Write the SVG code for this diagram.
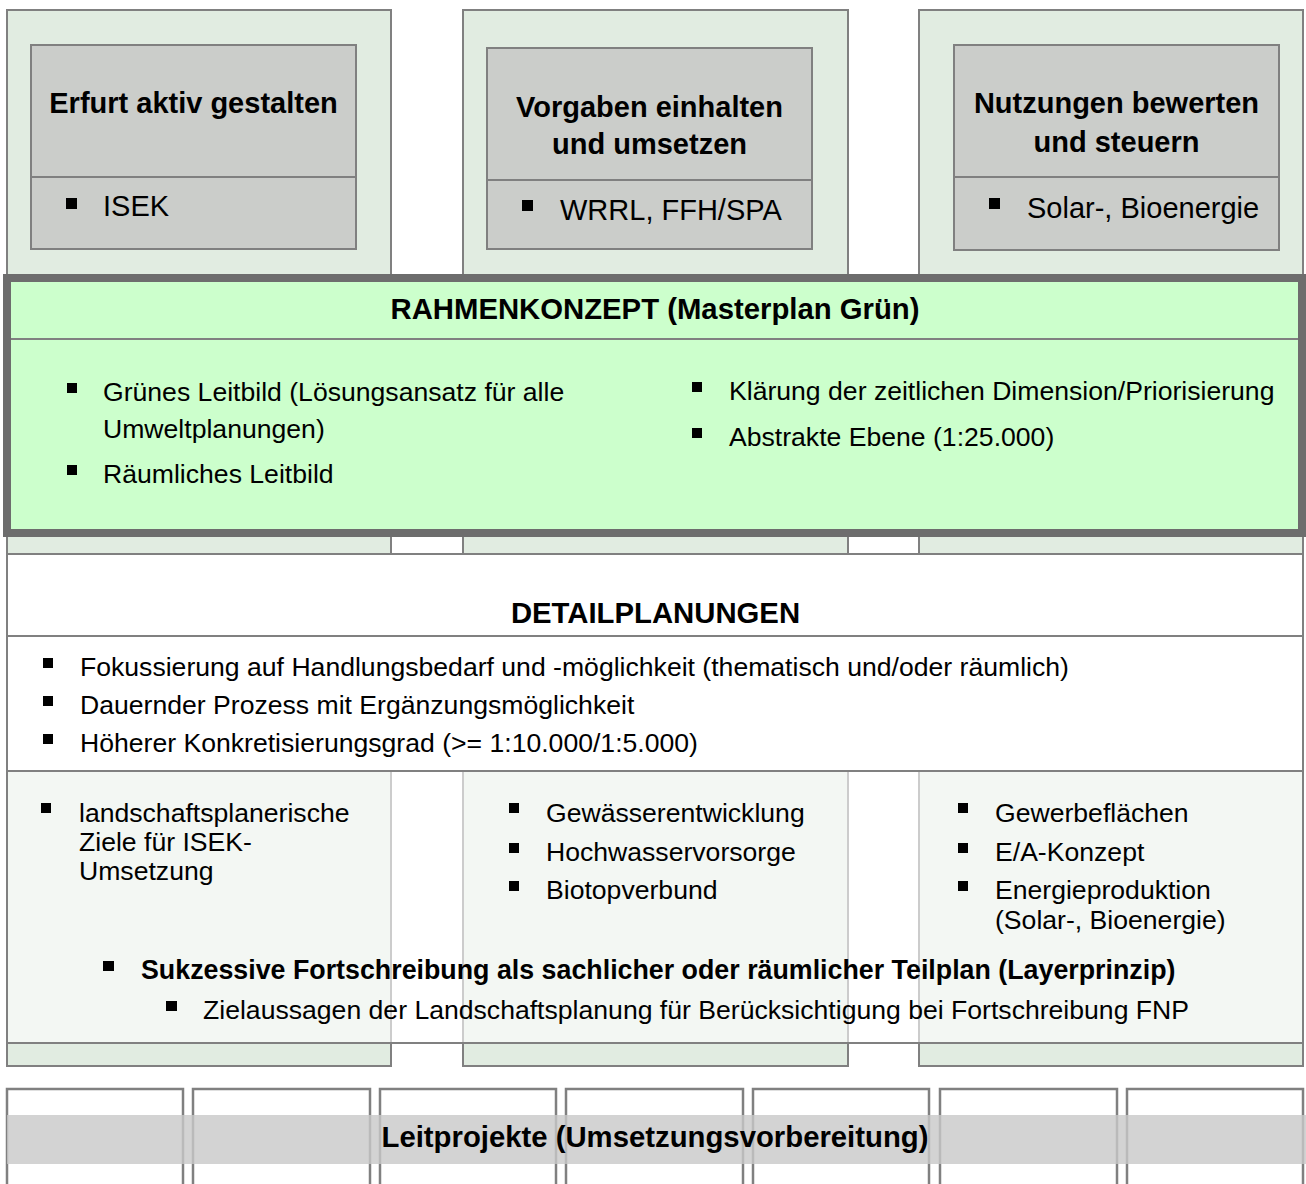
<svg xmlns="http://www.w3.org/2000/svg" width="1306" height="1184" viewBox="0 0 1306 1184">
<style>
text{font-family:"Liberation Sans",Arial,sans-serif;fill:#000}
.tb{font-size:29px;font-weight:bold;text-anchor:middle}
.t29{font-size:29px}
.t{font-size:26.6px}
.b{font-weight:bold}
.h{font-size:29.3px;font-weight:bold;text-anchor:middle}
.col{fill:#e1ece1;stroke:#808080;stroke-width:2}
.inner{fill:#cbcdca;stroke:#808080;stroke-width:2}
.ln{stroke:#808080;stroke-width:2;fill:none}
.sq{fill:#000}
.lp{fill:#fff;stroke:#808080;stroke-width:2.5}
</style>
<rect width="1306" height="1184" fill="#fff"/>
<g id="col-erfurt">
<rect class="col" x="7" y="10" width="384" height="1056"/>
<rect class="inner" x="31" y="45" width="325" height="204"/>
<line class="ln" x1="31" y1="177" x2="356" y2="177"/>
<text class="tb" x="193.5" y="113">Erfurt aktiv gestalten</text>
<rect class="sq" x="66" y="198" width="11" height="11"/>
<text class="t29" x="103" y="216">ISEK</text>
</g>
<g id="col-vorgaben">
<rect class="col" x="463" y="10" width="385" height="1056"/>
<rect class="inner" x="487" y="48" width="325" height="201"/>
<line class="ln" x1="487" y1="180" x2="812" y2="180"/>
<text class="tb" x="649.5" y="117">Vorgaben einhalten</text>
<text class="tb" x="649.5" y="154">und umsetzen</text>
<rect class="sq" x="522" y="200" width="11" height="11"/>
<text class="t29" x="560" y="220">WRRL, FFH/SPA</text>
</g>
<g id="col-nutzungen">
<rect class="col" x="919" y="10" width="384" height="1056"/>
<rect class="inner" x="954" y="45" width="325" height="205"/>
<line class="ln" x1="954" y1="177" x2="1279" y2="177"/>
<text class="tb" x="1116.5" y="113">Nutzungen bewerten</text>
<text class="tb" x="1116.5" y="152">und steuern</text>
<rect class="sq" x="989" y="198" width="11" height="11"/>
<text class="t29" x="1027" y="218">Solar-, Bioenergie</text>
</g>
<g id="rahmenkonzept">
<rect x="7" y="278" width="1295" height="255" fill="#ccffcc" stroke="#6d6d6d" stroke-width="8"/>
<line class="ln" x1="11" y1="339" x2="1298" y2="339"/>
<text class="h" x="655" y="319">RAHMENKONZEPT (Masterplan Grün)</text>
<rect class="sq" x="67" y="383" width="10" height="10"/>
<text class="t" x="103" y="401">Grünes Leitbild (Lösungsansatz für alle</text>
<text class="t" x="103" y="438">Umweltplanungen)</text>
<rect class="sq" x="67" y="465" width="10" height="10"/>
<text class="t" x="103" y="483">Räumliches Leitbild</text>
<rect class="sq" x="692" y="382" width="10" height="10"/>
<text class="t" x="729" y="400">Klärung der zeitlichen Dimension/Priorisierung</text>
<rect class="sq" x="692" y="428" width="10" height="10"/>
<text class="t" x="729" y="446">Abstrakte Ebene (1:25.000)</text>
</g>
<g id="detailplanungen">
<rect x="7" y="554" width="1296" height="217" fill="#fff"/>
<rect x="7" y="771" width="1296" height="272" fill="#fff" fill-opacity="0.6"/>
<rect class="ln" x="7" y="554" width="1296" height="489"/>
<line class="ln" x1="7" y1="636" x2="1303" y2="636"/>
<line class="ln" x1="7" y1="771" x2="1303" y2="771"/>
<text class="h" x="655.5" y="623">DETAILPLANUNGEN</text>
<rect class="sq" x="43" y="658" width="10" height="10"/>
<text class="t" x="80" y="676">Fokussierung auf Handlungsbedarf und -möglichkeit (thematisch und/oder räumlich)</text>
<rect class="sq" x="43" y="696" width="10" height="10"/>
<text class="t" x="80" y="714">Dauernder Prozess mit Ergänzungsmöglichkeit</text>
<rect class="sq" x="43" y="734" width="10" height="10"/>
<text class="t" x="80" y="752">Höherer Konkretisierungsgrad (&gt;= 1:10.000/1:5.000)</text>
<rect class="sq" x="41" y="803" width="10" height="10"/>
<text class="t" x="79" y="822">landschaftsplanerische</text>
<text class="t" x="79" y="851">Ziele für ISEK-</text>
<text class="t" x="79" y="880">Umsetzung</text>
<rect class="sq" x="509" y="803" width="10" height="10"/>
<text class="t" x="546" y="822">Gewässerentwicklung</text>
<rect class="sq" x="509" y="843" width="10" height="10"/>
<text class="t" x="546" y="861">Hochwasservorsorge</text>
<rect class="sq" x="509" y="881" width="10" height="10"/>
<text class="t" x="546" y="899">Biotopverbund</text>
<rect class="sq" x="958" y="803" width="10" height="10"/>
<text class="t" x="995" y="822">Gewerbeflächen</text>
<rect class="sq" x="958" y="843" width="10" height="10"/>
<text class="t" x="995" y="861">E/A-Konzept</text>
<rect class="sq" x="958" y="881" width="10" height="10"/>
<text class="t" x="995" y="899">Energieproduktion</text>
<text class="t" x="995" y="929">(Solar-, Bioenergie)</text>
<rect class="sq" x="103" y="961" width="11" height="10"/>
<text class="b" x="141" y="979" font-size="26.8">Sukzessive Fortschreibung als sachlicher oder räumlicher Teilplan (Layerprinzip)</text>
<rect class="sq" x="166" y="1001" width="11" height="10"/>
<text class="t" x="203" y="1019">Zielaussagen der Landschaftsplanung für Berücksichtigung bei Fortschreibung FNP</text>
</g>
<g id="leitprojekte">
<rect class="lp" x="7" y="1089" width="176" height="120"/>
<rect class="lp" x="193" y="1089" width="177" height="120"/>
<rect class="lp" x="380" y="1089" width="176" height="120"/>
<rect class="lp" x="566" y="1089" width="177" height="120"/>
<rect class="lp" x="753" y="1089" width="176" height="120"/>
<rect class="lp" x="940" y="1089" width="177" height="120"/>
<rect class="lp" x="1127" y="1089" width="176" height="120"/>
<rect x="7" y="1115" width="1299" height="49" fill="#c8c8c8" fill-opacity="0.8"/>
<text class="h" x="655" y="1147">Leitprojekte (Umsetzungsvorbereitung)</text>
</g>
<g id="connectors"/>
</svg>
